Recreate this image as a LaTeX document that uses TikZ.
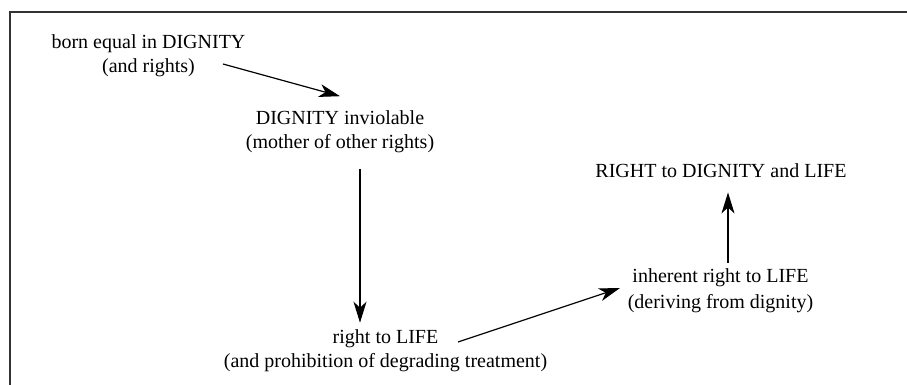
\documentclass[tikz,border=0pt]{standalone}
\usepackage{fontspec}
\setmainfont{Liberation Serif}
\usetikzlibrary{arrows.meta}
\tikzset{
  lbl/.style={inner sep=0pt, align=center, font=\fontsize{20}{24}\selectfont},
  arr/.style={line width=1.2pt, -{Stealth[length=21pt,width=13pt,inset=6pt]}},
  frame/.style={line width=1.3pt, black!80}
}
\begin{document}
\begin{tikzpicture}[x=1pt,y=-1pt]
\useasboundingbox (0,0) rectangle (907,385);
\draw[frame] (907,12) -- (10,12) -- (10,385);
\node[lbl] (born) at (148.5,55.3) {born equal in DIGNITY\\(and rights)};
\node[lbl] (dig) at (340,131.8) {DIGNITY inviolable\\(mother of other rights)};
\node[lbl] (life) at (385.5,350.3) {right to LIFE\\(and prohibition of degrading treatment)};
\node[lbl,font=\fontsize{20}{26}\selectfont] (inh) at (720.5,291) {inherent right to LIFE\\(deriving from dignity)};
\node[lbl] (rdl) at (721,170.2) {RIGHT to DIGNITY and LIFE};
\draw[arr] ([shift={(74.5pt,-8.7pt)}]born.center) -- ([yshift=14.3pt]dig.north);
\draw[arr] ([xshift=20pt,yshift=-15.7pt]dig.south) -- ([xshift=-25.5pt,yshift=6.3pt]life.north);
\draw[arr] ([shift={(72.5pt,8.3pt)}]life.center) -- ([shift={(-100.5pt,3pt)}]inh.center);
\draw[arr] ([shift={(7.5pt,6pt)}]inh.north) -- ([shift={(7pt,-15pt)}]rdl.south);
\end{tikzpicture}
\end{document}
